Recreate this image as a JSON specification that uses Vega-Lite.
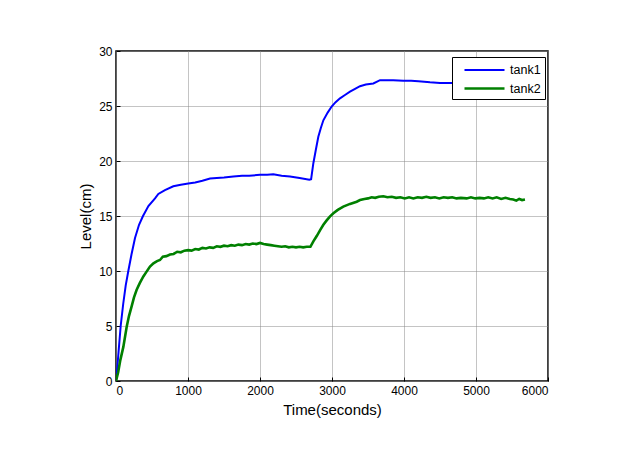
{
  "$schema": "https://vega.github.io/schema/vega-lite/v6.json",
  "width": 432,
  "height": 330,
  "autosize": "none",
  "padding": {"left": 116, "top": 51, "right": 85, "bottom": 87},
  "background": "white",
  "config": {
    "font": "Liberation Sans",
    "view": {"stroke": "#000000", "strokeWidth": 1.5},
    "axis": {
      "domain": false,
      "grid": true,
      "gridColor": "#888888",
      "gridDash": [1, 1],
      "gridOpacity": 1,
      "gridWidth": 1,
      "ticks": true,
      "tickSize": -4,
      "tickColor": "#000000",
      "labelFont": "Liberation Sans",
      "labelFontSize": 12,
      "labelColor": "#000000",
      "labelPadding": 8,
      "titleFont": "Liberation Sans",
      "titleFontSize": 15,
      "titleFontWeight": "normal",
      "titleColor": "#000000"
    }
  },
  "data": {
    "values": [
      {"series": "tank1", "t": 0, "L": 0},
      {"series": "tank1", "t": 15, "L": 1.0},
      {"series": "tank1", "t": 35, "L": 2.6},
      {"series": "tank1", "t": 65, "L": 5.0},
      {"series": "tank1", "t": 100, "L": 7.0},
      {"series": "tank1", "t": 135, "L": 8.7},
      {"series": "tank1", "t": 171, "L": 10.0},
      {"series": "tank1", "t": 215, "L": 11.5},
      {"series": "tank1", "t": 264, "L": 13.0},
      {"series": "tank1", "t": 320, "L": 14.2},
      {"series": "tank1", "t": 375, "L": 15.0},
      {"series": "tank1", "t": 450, "L": 15.9},
      {"series": "tank1", "t": 542, "L": 16.6},
      {"series": "tank1", "t": 588, "L": 17.0},
      {"series": "tank1", "t": 680, "L": 17.35},
      {"series": "tank1", "t": 796, "L": 17.7},
      {"series": "tank1", "t": 900, "L": 17.85},
      {"series": "tank1", "t": 1004, "L": 17.95},
      {"series": "tank1", "t": 1100, "L": 18.05},
      {"series": "tank1", "t": 1200, "L": 18.2},
      {"series": "tank1", "t": 1306, "L": 18.4},
      {"series": "tank1", "t": 1400, "L": 18.45},
      {"series": "tank1", "t": 1500, "L": 18.5},
      {"series": "tank1", "t": 1630, "L": 18.6},
      {"series": "tank1", "t": 1750, "L": 18.65},
      {"series": "tank1", "t": 1850, "L": 18.65},
      {"series": "tank1", "t": 2000, "L": 18.75},
      {"series": "tank1", "t": 2100, "L": 18.75},
      {"series": "tank1", "t": 2185, "L": 18.8},
      {"series": "tank1", "t": 2300, "L": 18.65},
      {"series": "tank1", "t": 2417, "L": 18.6},
      {"series": "tank1", "t": 2550, "L": 18.45},
      {"series": "tank1", "t": 2685, "L": 18.3},
      {"series": "tank1", "t": 2710, "L": 18.35},
      {"series": "tank1", "t": 2741, "L": 19.8},
      {"series": "tank1", "t": 2775, "L": 21.0},
      {"series": "tank1", "t": 2810, "L": 22.2},
      {"series": "tank1", "t": 2845, "L": 23.0},
      {"series": "tank1", "t": 2880, "L": 23.7},
      {"series": "tank1", "t": 2940, "L": 24.4},
      {"series": "tank1", "t": 2995, "L": 24.95},
      {"series": "tank1", "t": 3050, "L": 25.35},
      {"series": "tank1", "t": 3111, "L": 25.7},
      {"series": "tank1", "t": 3180, "L": 26.0},
      {"series": "tank1", "t": 3250, "L": 26.3},
      {"series": "tank1", "t": 3320, "L": 26.55},
      {"series": "tank1", "t": 3389, "L": 26.8},
      {"series": "tank1", "t": 3470, "L": 26.95},
      {"series": "tank1", "t": 3574, "L": 27.05},
      {"series": "tank1", "t": 3667, "L": 27.35},
      {"series": "tank1", "t": 3750, "L": 27.35},
      {"series": "tank1", "t": 3850, "L": 27.35},
      {"series": "tank1", "t": 3991, "L": 27.3},
      {"series": "tank1", "t": 4100, "L": 27.3},
      {"series": "tank1", "t": 4200, "L": 27.25},
      {"series": "tank1", "t": 4361, "L": 27.15},
      {"series": "tank1", "t": 4500, "L": 27.1},
      {"series": "tank1", "t": 4662, "L": 27.1},
      {"series": "tank1", "t": 4800, "L": 27.05},
      {"series": "tank1", "t": 5000, "L": 27.0},
      {"series": "tank1", "t": 5200, "L": 27.0},
      {"series": "tank1", "t": 5400, "L": 26.95},
      {"series": "tank1", "t": 5680, "L": 27.0},
      {"series": "tank2", "t": 0, "L": 0},
      {"series": "tank2", "t": 30, "L": 0.8},
      {"series": "tank2", "t": 60, "L": 1.9},
      {"series": "tank2", "t": 102, "L": 3.1},
      {"series": "tank2", "t": 148, "L": 4.9},
      {"series": "tank2", "t": 180, "L": 5.9},
      {"series": "tank2", "t": 218, "L": 6.8},
      {"series": "tank2", "t": 250, "L": 7.6},
      {"series": "tank2", "t": 287, "L": 8.3},
      {"series": "tank2", "t": 330, "L": 8.9},
      {"series": "tank2", "t": 380, "L": 9.5},
      {"series": "tank2", "t": 420, "L": 9.9},
      {"series": "tank2", "t": 472, "L": 10.4},
      {"series": "tank2", "t": 520, "L": 10.7},
      {"series": "tank2", "t": 570, "L": 10.9},
      {"series": "tank2", "t": 611, "L": 11.0},
      {"series": "tank2", "t": 650, "L": 11.3},
      {"series": "tank2", "t": 700, "L": 11.35},
      {"series": "tank2", "t": 750, "L": 11.5},
      {"series": "tank2", "t": 800, "L": 11.55},
      {"series": "tank2", "t": 850, "L": 11.75},
      {"series": "tank2", "t": 900, "L": 11.7},
      {"series": "tank2", "t": 950, "L": 11.85},
      {"series": "tank2", "t": 1000, "L": 11.9},
      {"series": "tank2", "t": 1050, "L": 11.85},
      {"series": "tank2", "t": 1100, "L": 12.0},
      {"series": "tank2", "t": 1150, "L": 11.95},
      {"series": "tank2", "t": 1200, "L": 12.1},
      {"series": "tank2", "t": 1250, "L": 12.05},
      {"series": "tank2", "t": 1300, "L": 12.15},
      {"series": "tank2", "t": 1350, "L": 12.1},
      {"series": "tank2", "t": 1400, "L": 12.25},
      {"series": "tank2", "t": 1450, "L": 12.2},
      {"series": "tank2", "t": 1500, "L": 12.3},
      {"series": "tank2", "t": 1550, "L": 12.25},
      {"series": "tank2", "t": 1600, "L": 12.35},
      {"series": "tank2", "t": 1650, "L": 12.3},
      {"series": "tank2", "t": 1700, "L": 12.4},
      {"series": "tank2", "t": 1750, "L": 12.35},
      {"series": "tank2", "t": 1800, "L": 12.45},
      {"series": "tank2", "t": 1850, "L": 12.4},
      {"series": "tank2", "t": 1900, "L": 12.5},
      {"series": "tank2", "t": 1950, "L": 12.45},
      {"series": "tank2", "t": 2000, "L": 12.55},
      {"series": "tank2", "t": 2050, "L": 12.45},
      {"series": "tank2", "t": 2100, "L": 12.4},
      {"series": "tank2", "t": 2150, "L": 12.35},
      {"series": "tank2", "t": 2200, "L": 12.3},
      {"series": "tank2", "t": 2250, "L": 12.25},
      {"series": "tank2", "t": 2300, "L": 12.2},
      {"series": "tank2", "t": 2350, "L": 12.25},
      {"series": "tank2", "t": 2400, "L": 12.15},
      {"series": "tank2", "t": 2450, "L": 12.2},
      {"series": "tank2", "t": 2500, "L": 12.15},
      {"series": "tank2", "t": 2550, "L": 12.2},
      {"series": "tank2", "t": 2600, "L": 12.15},
      {"series": "tank2", "t": 2650, "L": 12.2},
      {"series": "tank2", "t": 2700, "L": 12.2},
      {"series": "tank2", "t": 2741, "L": 12.7},
      {"series": "tank2", "t": 2790, "L": 13.2},
      {"series": "tank2", "t": 2833, "L": 13.7},
      {"series": "tank2", "t": 2880, "L": 14.2},
      {"series": "tank2", "t": 2926, "L": 14.6},
      {"series": "tank2", "t": 2970, "L": 14.95},
      {"series": "tank2", "t": 3019, "L": 15.25},
      {"series": "tank2", "t": 3080, "L": 15.55},
      {"series": "tank2", "t": 3157, "L": 15.85},
      {"series": "tank2", "t": 3250, "L": 16.1},
      {"series": "tank2", "t": 3343, "L": 16.3},
      {"series": "tank2", "t": 3389, "L": 16.45},
      {"series": "tank2", "t": 3450, "L": 16.55},
      {"series": "tank2", "t": 3500, "L": 16.6},
      {"series": "tank2", "t": 3550, "L": 16.7},
      {"series": "tank2", "t": 3600, "L": 16.65},
      {"series": "tank2", "t": 3650, "L": 16.75},
      {"series": "tank2", "t": 3713, "L": 16.8},
      {"series": "tank2", "t": 3770, "L": 16.7},
      {"series": "tank2", "t": 3830, "L": 16.75},
      {"series": "tank2", "t": 3890, "L": 16.65},
      {"series": "tank2", "t": 3950, "L": 16.7},
      {"series": "tank2", "t": 4010, "L": 16.6},
      {"series": "tank2", "t": 4070, "L": 16.7},
      {"series": "tank2", "t": 4130, "L": 16.6},
      {"series": "tank2", "t": 4190, "L": 16.7},
      {"series": "tank2", "t": 4250, "L": 16.65},
      {"series": "tank2", "t": 4310, "L": 16.75},
      {"series": "tank2", "t": 4370, "L": 16.65},
      {"series": "tank2", "t": 4430, "L": 16.7},
      {"series": "tank2", "t": 4490, "L": 16.6},
      {"series": "tank2", "t": 4550, "L": 16.7},
      {"series": "tank2", "t": 4610, "L": 16.65},
      {"series": "tank2", "t": 4670, "L": 16.7},
      {"series": "tank2", "t": 4730, "L": 16.6},
      {"series": "tank2", "t": 4790, "L": 16.65},
      {"series": "tank2", "t": 4870, "L": 16.6},
      {"series": "tank2", "t": 4930, "L": 16.7},
      {"series": "tank2", "t": 4990, "L": 16.6},
      {"series": "tank2", "t": 5050, "L": 16.65},
      {"series": "tank2", "t": 5110, "L": 16.6},
      {"series": "tank2", "t": 5170, "L": 16.7},
      {"series": "tank2", "t": 5230, "L": 16.6},
      {"series": "tank2", "t": 5287, "L": 16.7},
      {"series": "tank2", "t": 5350, "L": 16.55},
      {"series": "tank2", "t": 5410, "L": 16.65},
      {"series": "tank2", "t": 5470, "L": 16.55},
      {"series": "tank2", "t": 5518, "L": 16.5},
      {"series": "tank2", "t": 5560, "L": 16.4},
      {"series": "tank2", "t": 5600, "L": 16.55},
      {"series": "tank2", "t": 5640, "L": 16.45},
      {"series": "tank2", "t": 5680, "L": 16.5}
    ]
  },
  "mark": {"type": "line", "clip": true},
  "encoding": {
    "x": {
      "field": "t",
      "type": "quantitative",
      "title": "Time(seconds)",
      "scale": {"domain": [0, 6000], "nice": false, "zero": false},
      "axis": {"values": [0, 1000, 2000, 3000, 4000, 5000, 6000], "format": "d", "titlePadding": 6}
    },
    "y": {
      "field": "L",
      "type": "quantitative",
      "title": "Level(cm)",
      "scale": {"domain": [0, 30], "nice": false},
      "axis": {"values": [0, 5, 10, 15, 20, 25, 30], "format": "d", "titlePadding": 5}
    },
    "strokeWidth": {
      "field": "series",
      "type": "nominal",
      "scale": {"domain": ["tank1", "tank2"], "range": [2, 2.6]},
      "legend": null
    },
    "color": {
      "field": "series",
      "type": "nominal",
      "scale": {"domain": ["tank1", "tank2"], "range": ["#0000FF", "#008000"]},
      "legend": {
        "title": null,
        "orient": "none",
        "legendX": 336,
        "legendY": 6,
        "strokeColor": "#000000",
        "fillColor": "#FFFFFF",
        "padding": 4,
        "symbolType": "M-0.125,0H4.875",
        "symbolSize": 256,
        "symbolStrokeWidth": 2,
        "labelFont": "Liberation Sans",
        "labelFontSize": 12.5,
        "labelColor": "#000000",
        "labelOffset": 35,
        "rowPadding": 2
      }
    }
  }
}
